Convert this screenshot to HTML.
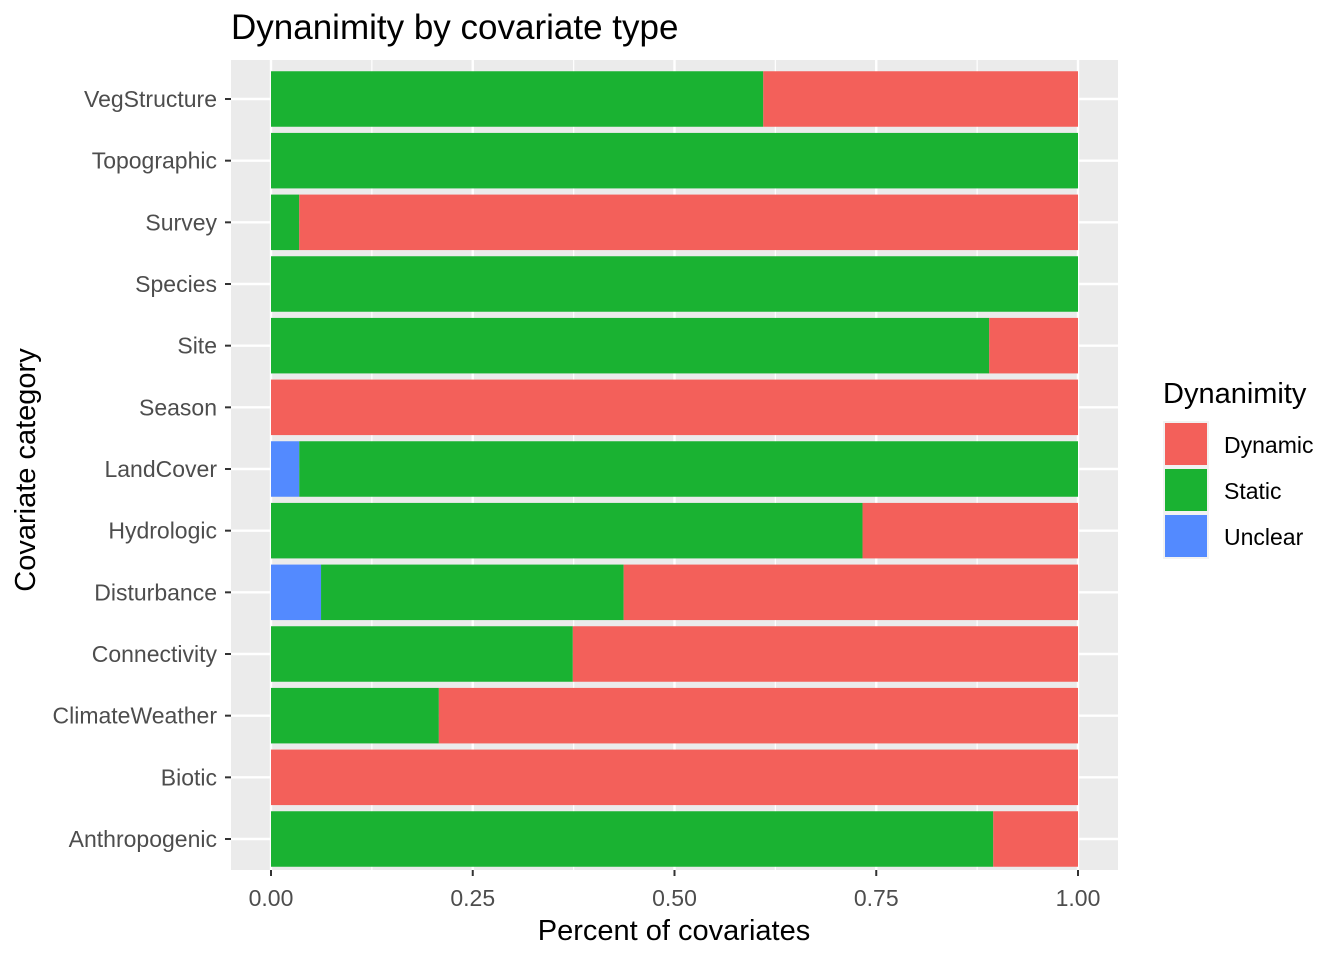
<!DOCTYPE html>
<html><head><meta charset="utf-8"><style>body{margin:0;background:#fff}svg{display:block;font-family:"Liberation Sans",Arial,sans-serif}</style></head>
<body>
<svg id="chart" width="1344" height="960">
<text x="231" y="39" font-size="35" fill="#000">Dynanimity by covariate type</text>
<rect x="231" y="60" width="887" height="810" fill="#ebebeb"/>
<g id="grid"></g><g id="bars"></g><g id="axes"></g>
<text x="674" y="940" font-size="29" text-anchor="middle">Percent of covariates</text>
<text transform="translate(35,470) rotate(-90)" font-size="29" text-anchor="middle">Covariate category</text>
<g>
<text x="1163" y="403" font-size="29">Dynanimity</text>
<rect x="1163" y="421" width="46" height="138" fill="#f2f2f2"/>
<rect x="1165" y="423" width="42" height="42" fill="#F3605A"/>
<text x="1224" y="453" font-size="23">Dynamic</text>
<rect x="1165" y="469" width="42" height="42" fill="#1AB232"/>
<text x="1224" y="499" font-size="23">Static</text>
<rect x="1165" y="515" width="42" height="42" fill="#538AFF"/>
<text x="1224" y="545" font-size="23">Unclear</text>
</g>
</svg>
<script>
const categories=["VegStructure","Topographic","Survey","Species","Site","Season","LandCover","Hydrologic","Disturbance","Connectivity","ClimateWeather","Biotic","Anthropogenic"];
const unclearVals=[0,0,0,0,0,0,0.035,0,0.062,0,0,0,0];
const staticVals=[0.61,1,0.035,1,0.89,0,0.965,0.733,0.375,0.374,0.208,0,0.895];
const dynamicVals=[0.39,0,0.965,0,0.11,1,0,0.267,0.563,0.626,0.792,1,0.105];
const xTicks=[0,0.25,0.5,0.75,1];
const xTickLabels=["0.00","0.25","0.50","0.75","1.00"];
const NS="http://www.w3.org/2000/svg";
const x=v=>271+v*807;
const y=i=>99+i*(740/12);
const bh=55.5;
function mk(p,t,a){const e=document.createElementNS(NS,t);for(const k in a)e.setAttribute(k,a[k]);p.appendChild(e);return e;}
const grid=document.getElementById('grid'),bars=document.getElementById('bars'),axes=document.getElementById('axes');
for(let i=0;i<xTicks.length-1;i++){const m=(xTicks[i]+xTicks[i+1])/2;
const g=mk(grid,'line',{x1:x(m),x2:x(m),y1:60,y2:870,stroke:'#fff','stroke-width':1.2});

}
xTicks.forEach((t,i)=>{const g=mk(grid,'line',{x1:x(t),x2:x(t),y1:60,y2:870,stroke:'#fff','stroke-width':2.4});


const tk=mk(axes,'line',{x1:x(t),x2:x(t),y1:870,y2:876,stroke:'#333','stroke-width':2});


const l=mk(axes,'text',{x:x(t),y:906,'font-size':23,fill:'#4d4d4d','text-anchor':'middle'});l.textContent=xTickLabels[i];

});
categories.forEach((c,i)=>{const yc=y(i);
const g=mk(grid,'line',{x1:231,x2:1118,y1:yc,y2:yc,stroke:'#fff','stroke-width':2.4});


let s=0;[[unclearVals[i],'#538AFF','unclear'],[staticVals[i],'#1AB232','static'],[dynamicVals[i],'#F3605A','dynamic']].forEach(([v,col,n])=>{
if(v>0){const r=mk(bars,'rect',{x:x(s),y:yc-bh/2,width:x(s+v)-x(s),height:bh,fill:col});

}
s+=v;});
const tk=mk(axes,'line',{x1:225,x2:231,y1:yc,y2:yc,stroke:'#333','stroke-width':2});


const l=mk(axes,'text',{x:217,y:yc+8,'font-size':23,fill:'#4d4d4d','text-anchor':'end'});l.textContent=c;

});
</script>
</body></html>
